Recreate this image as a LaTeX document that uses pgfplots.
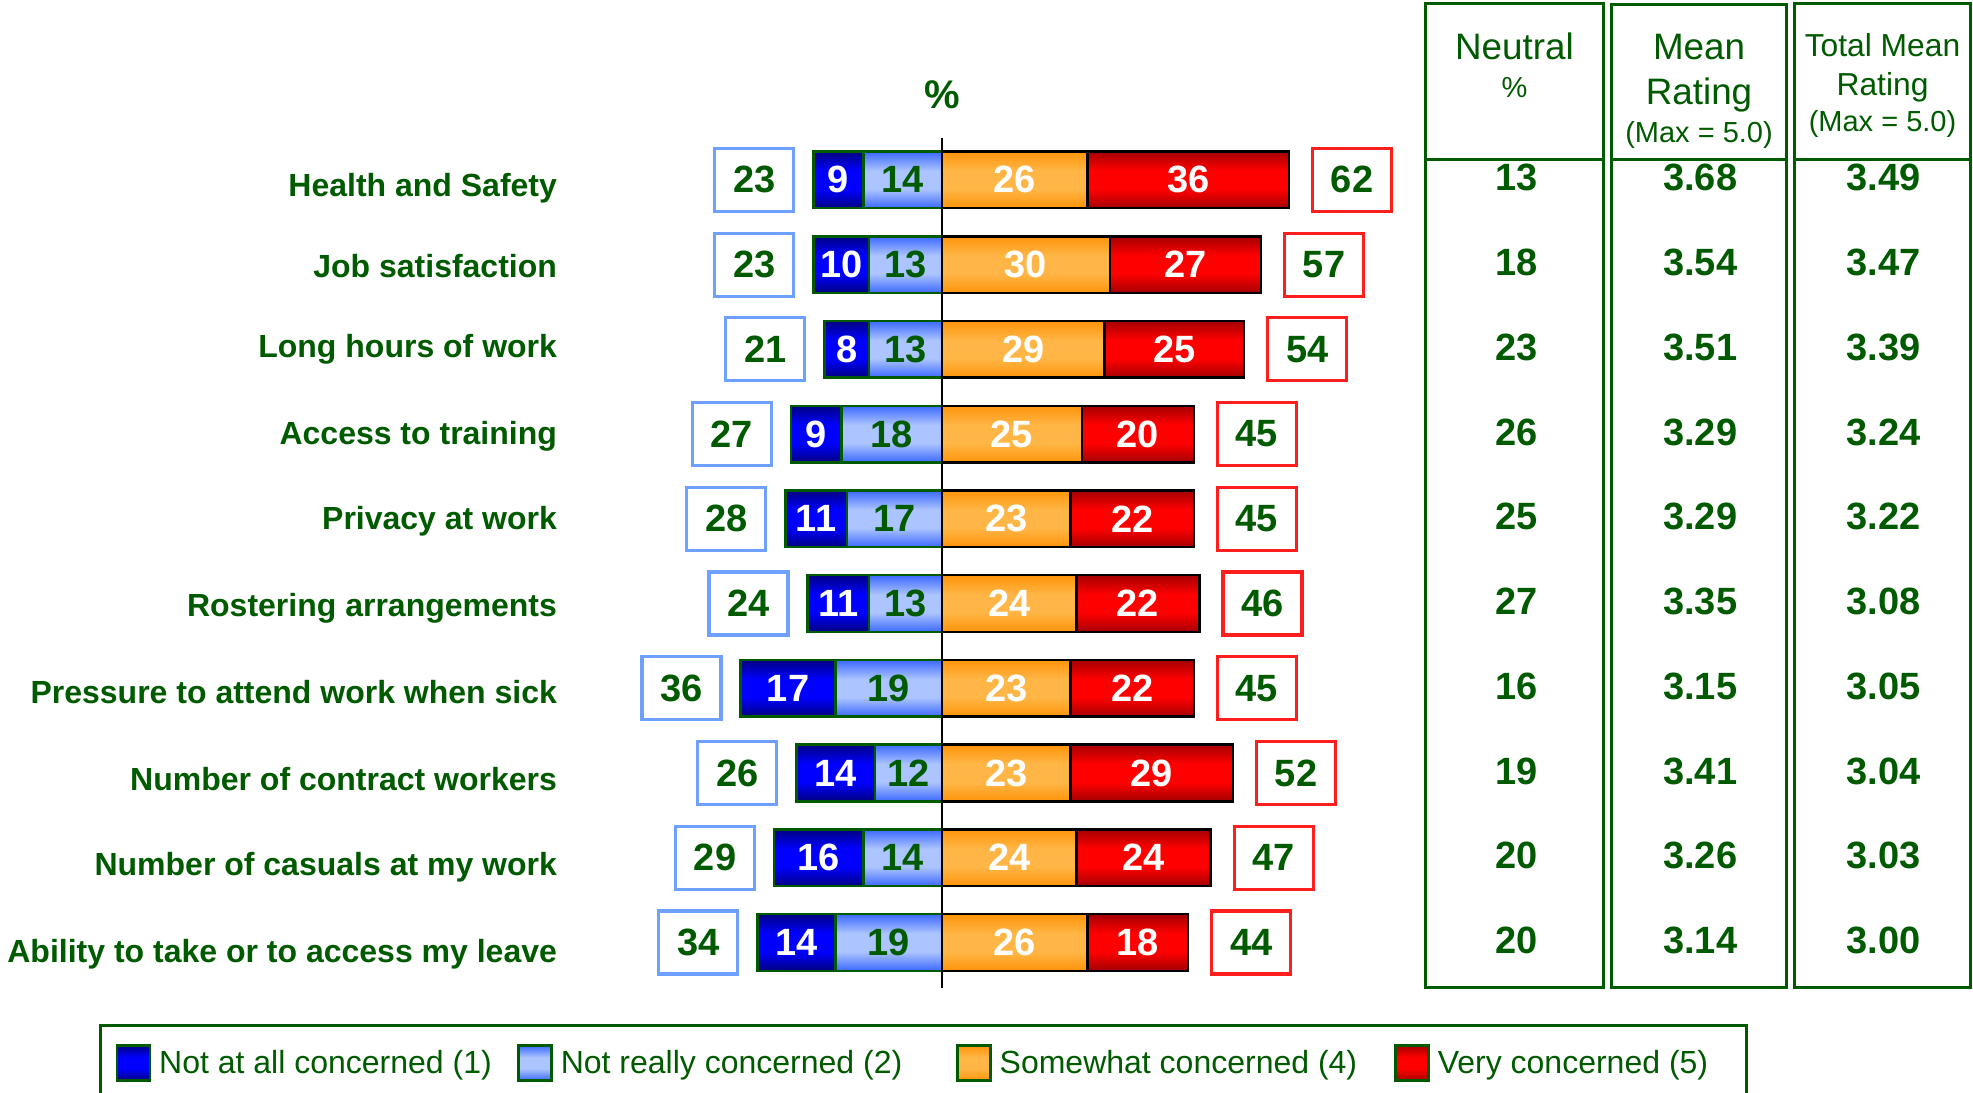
\documentclass[border=0pt]{standalone}
\usepackage{fontspec}
\setmainfont{Liberation Sans}
\usepackage{pgfplots}
\usepackage{pgfplotstable}
\pgfplotsset{compat=1.18}
\definecolor{dg}{RGB}{0,90,0}
\definecolor{c1e}{RGB}{0,0,130}\definecolor{c1m}{RGB}{0,0,255}
\definecolor{c2e}{RGB}{60,105,255}\definecolor{c2m}{RGB}{172,196,255}
\definecolor{c4e}{RGB}{255,148,10}\definecolor{c4m}{RGB}{255,182,70}
\definecolor{c5e}{RGB}{165,0,0}\definecolor{c5m}{RGB}{255,0,0}
\definecolor{boxblue}{RGB}{110,160,255}
\definecolor{boxred}{RGB}{255,30,30}
\pgfdeclareverticalshading{sh1}{100bp}{color(0bp)=(c1e); color(25bp)=(c1e); color(42bp)=(c1m); color(58bp)=(c1m); color(75bp)=(c1e); color(100bp)=(c1e)}
\pgfdeclareverticalshading{sh2}{100bp}{color(0bp)=(c2e); color(25bp)=(c2e); color(42bp)=(c2m); color(58bp)=(c2m); color(75bp)=(c2e); color(100bp)=(c2e)}
\pgfdeclareverticalshading{sh4}{100bp}{color(0bp)=(c4e); color(25bp)=(c4e); color(42bp)=(c4m); color(58bp)=(c4m); color(75bp)=(c4e); color(100bp)=(c4e)}
\pgfdeclareverticalshading{sh5}{100bp}{color(0bp)=(c5e); color(25bp)=(c5e); color(42bp)=(c5m); color(58bp)=(c5m); color(75bp)=(c5e); color(100bp)=(c5e)}
\newcommand\numfont{\fontsize{19}{22}\selectfont\bfseries}
\newcommand\catfont{\fontsize{16}{19}\selectfont\bfseries}
\pgfplotstableread[col sep=comma]{
y,ly,name,n1,n2,s4,v5,neg,pos,neu,mean,tmean
9,8.941,Health and Safety,9,14,26,36,23,62,13,3.68,3.49
8,7.994,Job satisfaction,10,13,30,27,23,57,18,3.54,3.47
7,7.041,Long hours of work,8,13,29,25,21,54,23,3.51,3.39
6,6.020,Access to training,9,18,25,20,27,45,26,3.29,3.24
5,5.012,Privacy at work,11,17,23,22,28,45,25,3.29,3.22
4,3.990,Rostering arrangements,11,13,24,22,24,46,27,3.35,3.08
3,2.960,Pressure to attend work when sick,17,19,23,22,36,45,16,3.15,3.05
2,1.941,Number of contract workers,14,12,23,29,26,52,19,3.41,3.04
1,0.931,Number of casuals at my work,16,14,24,24,29,47,20,3.26,3.03
0,-0.089,Ability to take or to access my leave,14,19,26,18,34,44,20,3.14,3.00
}\data
\pgfplotsset{
  s1/.style={shade,shading=sh1},
  s2/.style={shade,shading=sh2},
  s4/.style={shade,shading=sh4},
  s5/.style={shade,shading=sh5},
  barbase/.style={xbar,bar width=28.3pt,bar shift=0pt,line width=1.25pt,forget plot},
  lbl/.style={draw=none,mark=none,forget plot,nodes near coords,point meta=explicit symbolic},
}
\begin{document}
\begin{tikzpicture}
\clip (0,0) rectangle (986.5pt,546pt);
\begin{axis}[
  at={(0,0)},anchor=south west,
  scale only axis,width=986.5pt,height=546pt,
  xmin=-168.33,xmax=184.24,ymin=-1.765,ymax=11.123,
  hide axis,clip=false,
  legend image code/.code={\draw[#1,draw=dg,line width=1.2pt] (0pt,-8.75pt) rectangle (16.5pt,8.75pt);},
  legend style={draw=none,fill=none,at={(0.05869,0.02656)},anchor=west,
    inner sep=0pt,outer sep=0pt,nodes={inner sep=0pt,text=dg,font=\fontsize{16}{19}\selectfont},
    legend columns=4,
    /tikz/every odd column/.style={column sep=4pt},
    /tikz/column 1/.style={column sep=5pt},
    /tikz/column 2/.style={column sep=12.8pt},
    /tikz/column 4/.style={column sep=27pt},
    /tikz/column 6/.style={column sep=18.6pt}},
  legend cell align=left,
]
\addlegendimage{s1}\addlegendentry{Not at all concerned (1)}
\addlegendimage{s2}\addlegendentry{Not really concerned (2)}
\addlegendimage{s4}\addlegendentry{Somewhat concerned (4)}
\addlegendimage{s5}\addlegendentry{Very concerned (5)}
% bars, one path per bar so that each bar gets its own shading
\pgfplotsinvokeforeach{0,...,9}{
\addplot[barbase,s1,draw=dg,restrict expr to domain={\coordindex}{#1:#1}]
  table[x expr={-(\thisrow{n1}+\thisrow{n2})},y=y]{\data};
\addplot[barbase,s2,draw=dg,restrict expr to domain={\coordindex}{#1:#1}]
  table[x expr={-\thisrow{n2}},y=y]{\data};
\addplot[barbase,s5,draw=black,restrict expr to domain={\coordindex}{#1:#1}]
  table[x expr={\thisrow{s4}+\thisrow{v5}},y=y]{\data};
\addplot[barbase,s4,draw=black,restrict expr to domain={\coordindex}{#1:#1}]
  table[x expr={\thisrow{s4}},y=y]{\data};
}
% segment labels
\addplot[lbl,every node near coord/.style={anchor=center,font=\numfont,text=white}]
  table[x expr={-\thisrow{n2}-\thisrow{n1}/2},y=y,meta=n1]{\data};
\addplot[lbl,every node near coord/.style={anchor=center,font=\numfont,text=dg}]
  table[x expr={-\thisrow{n2}/2},y=y,meta=n2]{\data};
\addplot[lbl,every node near coord/.style={anchor=center,font=\numfont,text=white}]
  table[x expr={\thisrow{s4}/2},y=y,meta=s4]{\data};
\addplot[lbl,every node near coord/.style={anchor=center,font=\numfont,text=white}]
  table[x expr={\thisrow{s4}+\thisrow{v5}/2},y=y,meta=v5]{\data};
% total boxes
\addplot[lbl,every node near coord/.style={anchor=east,xshift=-9pt,draw=boxblue,line width=1.6pt,fill=white,
    minimum width=39.5pt,minimum height=31.5pt,font=\numfont,text=dg}]
  table[x expr={-(\thisrow{n1}+\thisrow{n2})},y=y,meta=neg]{\data};
\addplot[lbl,every node near coord/.style={anchor=west,xshift=11pt,draw=boxred,line width=1.6pt,fill=white,
    minimum width=39.5pt,minimum height=31.5pt,font=\numfont,text=dg}]
  table[x expr={\thisrow{s4}+\thisrow{v5}},y=y,meta=pos]{\data};
% category labels
\addplot[lbl,every node near coord/.style={anchor=east,inner sep=0pt,text height=0.75em,text depth=0.2em,
    yshift=-3.3pt,font=\catfont,text=dg}]
  table[x expr=-68.73,y=ly,meta=name]{\data};
% table values
\addplot[lbl,every node near coord/.style={anchor=center,yshift=1pt,font=\numfont,text=dg}]
  table[x expr=102.6,y=y,meta=neu]{\data};
\addplot[lbl,every node near coord/.style={anchor=center,yshift=1pt,font=\numfont,text=dg}]
  table[x expr=135.5,y=y,meta=mean]{\data};
\addplot[lbl,every node near coord/.style={anchor=center,yshift=1pt,font=\numfont,text=dg}]
  table[x expr=168.3,y=y,meta=tmean]{\data};
\draw[black,line width=1.25pt] (axis cs:0,9.49) -- (axis cs:0,-0.535);
\end{axis}
\begin{scope}[x=0.5pt,y=-0.5pt,yshift=546pt]
\draw[dg,line width=1.5pt] (1425.7,3.8) rectangle (1603.1,987.8);
\draw[dg,line width=1.5pt] (1425.7,159.8) -- (1603.1,159.8);
\draw[dg,line width=1.5pt] (1611.2,5) rectangle (1786.8,987.8);
\draw[dg,line width=1.5pt] (1611.2,159.8) -- (1786.8,159.8);
\draw[dg,line width=1.5pt] (1794.4,3.8) rectangle (1970.5,987.8);
\draw[dg,line width=1.5pt] (1794.4,159.8) -- (1970.5,159.8);
\draw[dg,line width=1.5pt] (100.7,1100) -- (100.7,1025.5) -- (1746.6,1025.5) -- (1746.6,1100);
\node[text=dg,font=\fontsize{20}{22}\selectfont\bfseries] at (942,94.4) {\%};
\node[text=dg,font=\fontsize{18.4}{20}\selectfont,anchor=mid] at (1514.4,54) {Neutral};
\node[text=dg,font=\fontsize{14.5}{16}\selectfont,anchor=mid] at (1514.4,92) {\%};
\node[text=dg,font=\fontsize{18.4}{20}\selectfont,anchor=mid] at (1699,54) {Mean};
\node[text=dg,font=\fontsize{18.4}{20}\selectfont,anchor=mid] at (1699,99) {Rating};
\node[text=dg,font=\fontsize{14.5}{16}\selectfont,anchor=mid] at (1699,137) {(Max = 5.0)};
\node[text=dg,font=\fontsize{15.9}{18}\selectfont,anchor=mid] at (1882.5,51) {Total Mean};
\node[text=dg,font=\fontsize{15.9}{18}\selectfont,anchor=mid] at (1882.5,90) {Rating};
\node[text=dg,font=\fontsize{14.5}{16}\selectfont,anchor=mid] at (1882.5,126) {(Max = 5.0)};
\end{scope}
\end{tikzpicture}
\end{document}
